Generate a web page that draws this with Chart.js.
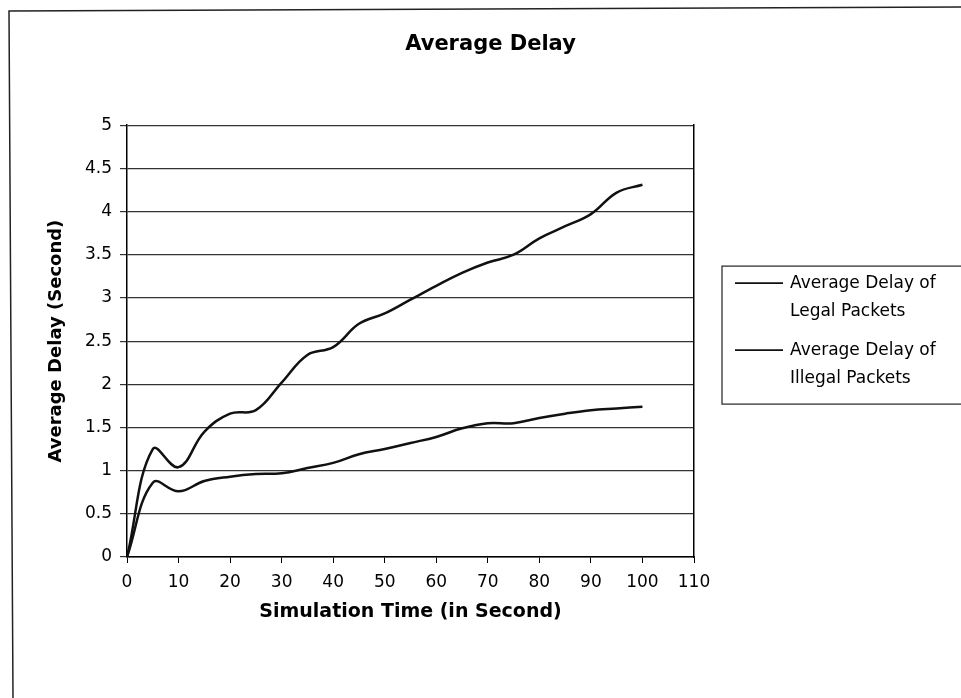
<!DOCTYPE html>
<html>
<head>
<meta charset="utf-8">
<title>Average Delay</title>
<script src="https://cdn.jsdelivr.net/npm/chart.js@4/dist/chart.umd.min.js"></script>
<style>
  html, body { margin: 0; padding: 0; background: #fff; }
  #wrap { width: 961px; height: 698px; }
</style>
</head>
<body>
<div id="wrap"><canvas id="delayChart" width="961" height="698"></canvas></div>
<script>
// simulation time (s) and measured average delay (s)
var simTime = [0, 5, 10, 15, 20, 25, 30, 35, 40, 45, 50, 55, 60, 65, 70, 75, 80, 85, 90, 95, 100];
var legalDelay = [0, 0.86, 0.76, 0.88, 0.93, 0.96, 0.97, 1.03, 1.09, 1.19, 1.25, 1.32, 1.39, 1.49, 1.55, 1.55, 1.61, 1.66, 1.70, 1.72, 1.74];
var illegalDelay = [0, 1.25, 1.04, 1.45, 1.66, 1.70, 2.02, 2.34, 2.43, 2.70, 2.82, 2.98, 3.14, 3.29, 3.41, 3.50, 3.69, 3.83, 3.97, 4.22, 4.31];
var seriesLabels = ['Average Delay of Legal Packets', 'Average Delay of Illegal Packets'];
var legendLines = [['Average Delay of', 'Legal Packets'], ['Average Delay of', 'Illegal Packets']];
var xTicks = [0, 10, 20, 30, 40, 50, 60, 70, 80, 90, 100, 110];

function toPoints(ys) {
    return simTime.map(function(t, i) { return { x: t, y: ys[i] }; });
}

Chart.defaults.font.family = "'DejaVu Sans', sans-serif";
Chart.defaults.color = '#000';

// scanned page frame around the whole chart
var pageFrame = {
    id: 'pageFrame',
    beforeDraw: function(chart) {
        var ctx = chart.ctx;
        ctx.save();
        ctx.strokeStyle = '#222';
        ctx.lineWidth = 1.5;
        ctx.beginPath();
        ctx.moveTo(13, 698);
        ctx.lineTo(9, 11);
        ctx.lineTo(961, 7);
        ctx.stroke();
        ctx.restore();
    }
};

// boxed legend with two-line labels, like the original
var boxLegend = {
    id: 'boxLegend',
    afterDraw: function(chart) {
        var ctx = chart.ctx;
        var area = chart.chartArea;
        var left = area.right + 28;
        var mid = (area.top + area.bottom) / 2;
        var top = mid - 75;
        var height = 138;
        ctx.save();
        ctx.strokeStyle = '#222';
        ctx.lineWidth = 1.2;
        ctx.strokeRect(left, top, 300, height);
        ctx.font = "17px 'DejaVu Sans', sans-serif";
        ctx.textBaseline = 'middle';
        ctx.textAlign = 'left';
        ctx.fillStyle = '#000';
        chart.data.datasets.forEach(function(ds, i) {
            var y = top + 17 + i * 67;
            ctx.strokeStyle = ds.borderColor;
            ctx.lineWidth = 1.8;
            ctx.beginPath();
            ctx.moveTo(left + 13, y);
            ctx.lineTo(left + 61, y);
            ctx.stroke();
            legendLines[i].forEach(function(line, j) {
                ctx.fillText(line, left + 68, y + j * 28);
            });
        });
        ctx.restore();
    }
};

new Chart(document.getElementById('delayChart'), {
    type: 'line',
    data: {
        datasets: [{
            label: seriesLabels[0],
            data: toPoints(legalDelay),
            borderColor: '#111',
            borderWidth: 2.5,
            pointRadius: 0,
            tension: 0.4,
            fill: false
        }, {
            label: seriesLabels[1],
            data: toPoints(illegalDelay),
            borderColor: '#111',
            borderWidth: 2.5,
            pointRadius: 0,
            tension: 0.4,
            fill: false
        }]
    },
    options: {
        responsive: false,
        animation: false,
        layout: { padding: { left: 20, right: 0, top: 0, bottom: 10 } },
        plugins: {
            legend: { display: false },
            tooltip: { enabled: false },
            title: {
                display: true,
                text: 'Average Delay',
                color: '#000',
                font: { size: 21, weight: 'bold' },
                padding: { top: 32, bottom: 68 }
            }
        },
        scales: {
            x: {
                type: 'linear',
                min: 0,
                max: 110,
                afterBuildTicks: function(scale) {
                    scale.ticks = xTicks.map(function(v) { return { value: v }; });
                },
                afterFit: function(scale) { scale.height = 131; },
                grid: { drawOnChartArea: false, drawTicks: true, tickLength: 6, color: '#000' },
                border: { display: true, color: '#000', width: 1.5 },
                ticks: { font: { size: 17 }, color: '#000', padding: 9, maxRotation: 0 },
                title: {
                    display: true,
                    text: 'Simulation Time (in Second)',
                    color: '#000',
                    font: { size: 19, weight: 'bold' },
                    padding: { top: 0, bottom: 65 }
                }
            },
            y: {
                min: 0,
                max: 5,
                afterFit: function(scale) { scale.width = 107; },
                ticks: {
                    stepSize: 0.5,
                    font: { size: 17 },
                    color: '#000',
                    padding: 8,
                    callback: function(v) { return String(Number(v)); }
                },
                grid: { color: '#333', lineWidth: 1.2, tickLength: 7 },
                border: { display: true, color: '#000', width: 1.5 },
                title: {
                    display: true,
                    text: 'Average Delay (Second)',
                    color: '#000',
                    font: { size: 18, weight: 'bold' },
                    padding: { top: 26, bottom: 0 }
                }
            },
            // empty right-hand axis: keeps room for the legend and draws the plot's right edge
            yRight: {
                position: 'right',
                min: 0,
                max: 5,
                afterFit: function(scale) { scale.width = 267; },
                grid: { display: false },
                ticks: { display: false },
                border: { display: true, color: '#000', width: 1.5 }
            }
        }
    },
    plugins: [pageFrame, boxLegend]
});
</script>
</body>
</html>
